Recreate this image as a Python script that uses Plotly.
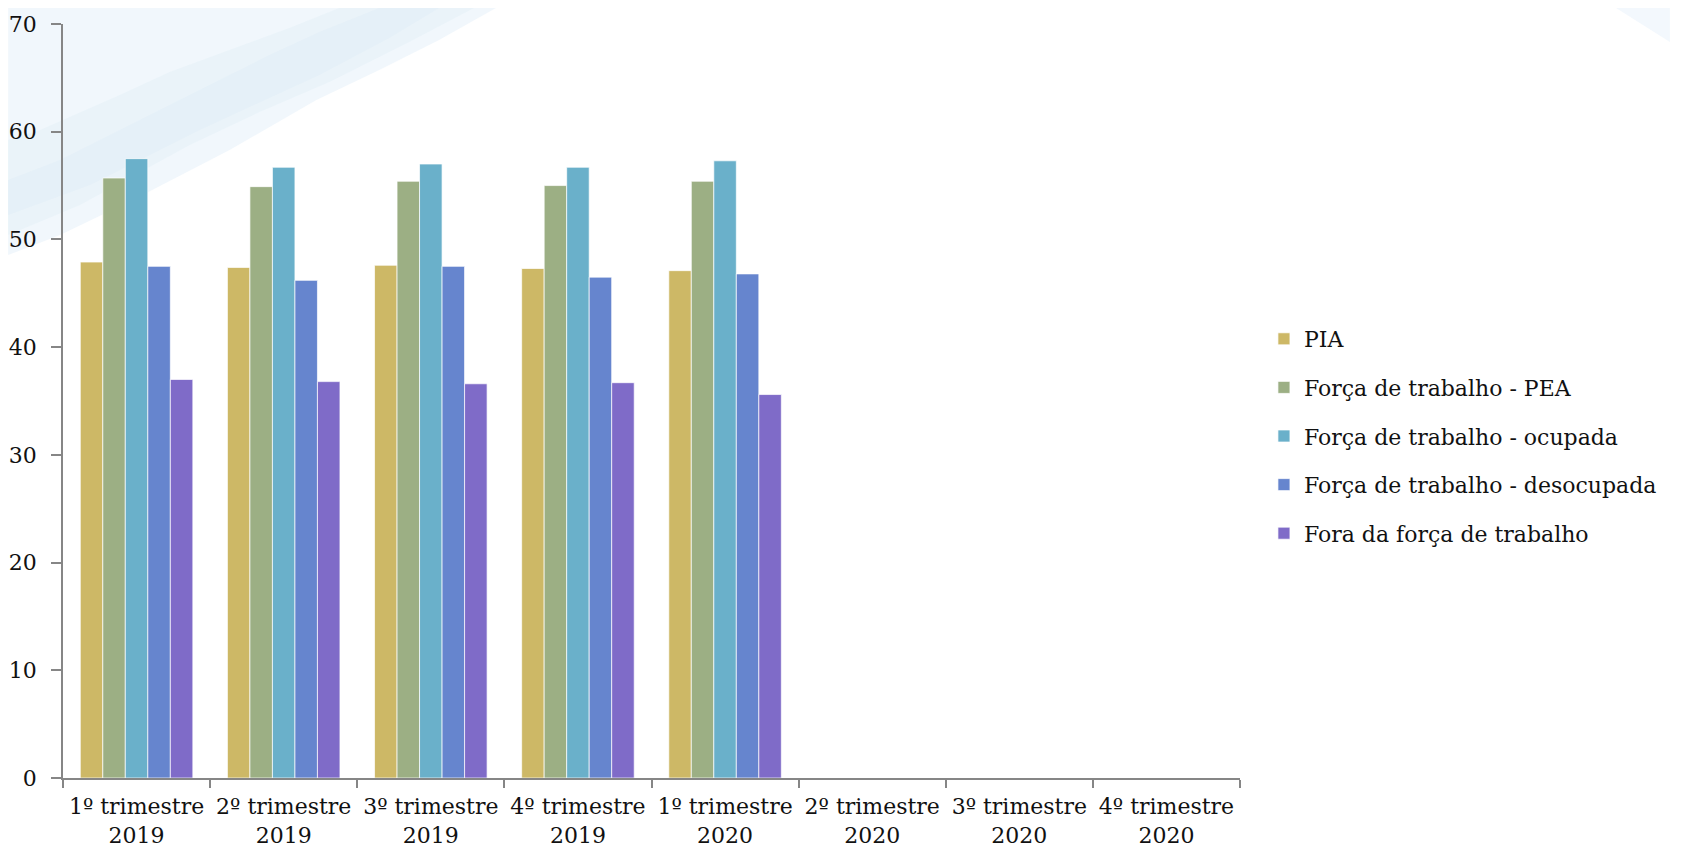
import plotly.graph_objects as go

categories = [
    "1º trimestre<br>2019", "2º trimestre<br>2019", "3º trimestre<br>2019", "4º trimestre<br>2019",
    "1º trimestre<br>2020", "2º trimestre<br>2020", "3º trimestre<br>2020", "4º trimestre<br>2020",
]
series_names = [
    "PIA",
    "Força de trabalho - PEA",
    "Força de trabalho - ocupada",
    "Força de trabalho - desocupada",
    "Fora da força de trabalho",
]
pia = [47.9, 47.4, 47.6, 47.3, 47.1, None, None, None]
pea = [55.7, 54.9, 55.4, 55.0, 55.4, None, None, None]
ocupada = [57.5, 56.7, 57.0, 56.7, 57.3, None, None, None]
desocupada = [47.5, 46.2, 47.5, 46.5, 46.8, None, None, None]
fora = [37.0, 36.8, 36.6, 36.7, 35.6, None, None, None]
series_values = [pia, pea, ocupada, desocupada, fora]
colors = ["#CDB866", "#9CAF84", "#6AB0CA", "#6685CE", "#7F6BC8"]
y_ticks = [0, 10, 20, 30, 40, 50, 60, 70]

FONT = "DejaVu Serif"
OFF = 8  # page body margin
W, H = 1682 - 2 * OFF, 857 - 2 * OFF
# plot area in screen pixels
X0, X1, Y0, Y1 = 63, 1243, 24, 778
ML, MT = X0 - OFF, Y0 - OFF
MR = OFF + W - X1
MB = OFF + H - Y1
PW, PH = X1 - X0, Y1 - Y0


def px(x):
    return (x - X0) / PW


def py(y):
    return (Y1 - y) / PH


fig = go.Figure()
for name, vals, col in zip(series_names, series_values, colors):
    fig.add_trace(go.Bar(
        x=categories, y=vals, name=name, legendgroup=name,
        marker=dict(color=col, line=dict(color="rgba(255,255,255,0.7)", width=1)),
    ))


def path(points):
    s = "M {} {}".format(px(points[0][0]), py(points[0][1]))
    for p in points[1:]:
        s += " L {} {}".format(px(p[0]), py(p[1]))
    return s + " Z"


# faint decorative background swoosh (top-left and top-right corners)
shapes = [
    dict(type="path", xref="paper", yref="paper", layer="below", line=dict(width=0),
         fillcolor="rgba(228,240,249,0.5)",
         path=path([(8, 8), (497, 8), (440, 40), (380, 70), (317, 100), (230, 150), (133, 200),
                    (60, 235), (8, 255)])),
    dict(type="path", xref="paper", yref="paper", layer="below", line=dict(width=0),
         fillcolor="rgba(210,230,243,0.22)",
         path=path([(340, 8), (290, 28), (230, 50), (170, 72), (120, 95), (40, 130), (8, 140),
                    (8, 235), (80, 205), (190, 145), (260, 112), (330, 82), (410, 42), (475, 8)])),
    dict(type="path", xref="paper", yref="paper", layer="below", line=dict(width=0),
         fillcolor="rgba(210,230,243,0.2)",
         path=path([(380, 8), (320, 32), (270, 55), (160, 110), (60, 160), (8, 180),
                    (8, 215), (90, 185), (200, 130), (320, 75), (390, 38), (440, 8)])),
    dict(type="path", xref="paper", yref="paper", layer="below", line=dict(width=0),
         fillcolor="rgba(235,243,251,0.6)",
         path=path([(1620, 8), (1674, 8), (1674, 42)])),
]

fig.update_layout(
    width=W, height=H,
    margin=dict(l=ML, r=MR, t=MT, b=MB, pad=0),
    paper_bgcolor="white", plot_bgcolor="rgba(0,0,0,0)",
    barmode="group", bargap=0.235, bargroupgap=0,
    font=dict(family=FONT, size=22, color="#111111"),
    shapes=shapes,
    showlegend=True,
    legend=dict(x=px(1267), xanchor="left", y=py(436), yanchor="middle",
                traceorder="grouped", tracegroupgap=17,
                font=dict(family=FONT, size=22, color="#111111"),
                bgcolor="rgba(0,0,0,0)"),
    xaxis=dict(
        type="category", showgrid=False, zeroline=False, automargin=False,
        showline=True, linecolor="#868686", linewidth=1.5,
        ticks="outside", ticklen=8, tickcolor="#868686", tickwidth=1.5,
        tickson="boundaries", ticklabelstandoff=8,
        tickfont=dict(family=FONT, size=22, color="#111111"),
    ),
    yaxis=dict(
        range=[0, 70], tickvals=y_ticks, showgrid=False, zeroline=False, automargin=False,
        showline=True, linecolor="#868686", linewidth=1.5,
        ticks="outside", ticklen=10, tickcolor="#868686", tickwidth=1.5,
        ticklabelstandoff=10,
        tickfont=dict(family=FONT, size=22, color="#111111"),
    ),
)

fig.write_html("out.html")
